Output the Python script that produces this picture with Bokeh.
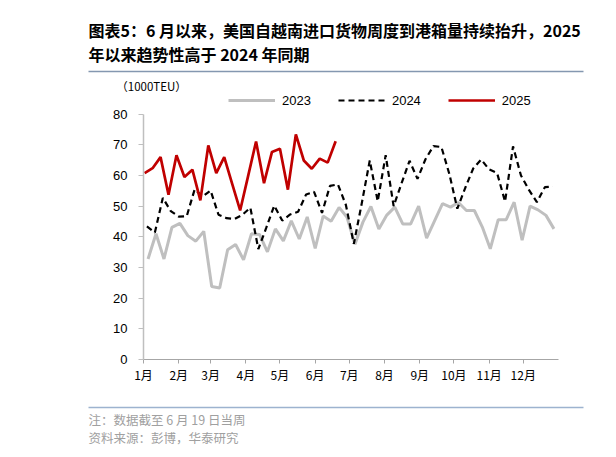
import pandas as pd
from bokeh.plotting import figure
from bokeh.layouts import column
from bokeh.models import Range1d, FixedTicker, Label, Legend, LegendItem, BoxAnnotation
from bokeh.embed import file_html
from bokeh.resources import INLINE

# ---- data (1000 TEU, weekly arrivals of US imports from Vietnam) ----
series_2023 = [32.8, 41.0, 32.8, 43.1, 44.4, 40.4, 38.6, 41.8, 23.8, 23.3,
               35.8, 37.5, 32.5, 41.0, 40.8, 35.1, 42.6, 38.7, 45.2, 39.3,
               46.5, 36.2, 46.8, 45.1, 49.6, 46.4, 37.6, 44.8, 49.9, 42.6,
               47.1, 49.7, 44.2, 44.2, 50.0, 39.6, 45.2, 50.8, 49.7, 51.2,
               48.6, 48.6, 43.2, 36.1, 45.6, 45.6, 51.3, 38.9, 50.0, 48.8,
               47.0, 42.6]
series_2024 = [43.4, 41.4, 52.7, 48.4, 46.6, 46.7, 55.5, 53.2, 55.1, 47.2,
               46.1, 45.8, 47.2, 49.5, 36.0, 43.0, 50.2, 45.3, 47.3, 48.2,
               53.8, 54.7, 47.8, 56.6, 57.1, 50.4, 37.7, 51.0, 64.9, 51.6,
               66.6, 50.0, 57.5, 64.8, 58.9, 65.3, 69.6, 69.3, 60.5, 49.2,
               56.0, 62.3, 65.2, 62.0, 60.8, 51.5, 69.5, 60.0, 55.3, 51.3,
               56.2, 56.4]
series_2025 = [60.8, 62.4, 66.0, 53.7, 66.6, 59.5, 61.9, 51.9, 69.8, 60.8,
               66.0, 57.3, 48.6, 59.8, 71.1, 57.5, 67.7, 68.7, 55.4, 73.4,
               64.9, 62.2, 65.5, 64.2, 71.2]
first_week = {"2023": "2023-01-05", "2024": "2024-01-04", "2025": "2025-01-02"}
series_names = ["2023", "2024", "2025"]
month_ticks = [1, 32, 60, 91, 121, 152, 182, 213, 244, 274, 305, 335]
month_labels = ["1月", "2月", "3月", "4月", "5月", "6月", "7月", "8月", "9月", "10月", "11月", "12月"]
y_ticks = [0, 10, 20, 30, 40, 50, 60, 70, 80]

title_1 = "图表5：6 月以来，美国自越南进口货物周度到港箱量持续抬升，2025"
title_2 = "年以来趋势性高于 2024 年同期"
unit_text = "（1000TEU）"
note_text = "注：数据截至 6 月 19 日当周"
source_text = "资料来源：彭博，华泰研究"


def day_of_year(start, n):
    return list(pd.date_range(start, periods=n, freq="7D").dayofyear)


W = 600
HEAD_H, MAIN_H, FOOT_H = 92, 298, 59
CJK = "Noto Sans CJK SC"


def blank_fig(h):
    f = figure(width=W, height=h, output_backend="svg", toolbar_location=None,
               x_range=Range1d(0, W), y_range=Range1d(h, 0),
               x_axis_location=None, y_axis_location=None, min_border=0,
               frame_align=False)
    f.outline_line_color = None
    f.xgrid.visible = False
    f.ygrid.visible = False
    return f


def add_label(f, text, x, y, size, bold=False, color="#000000", font=CJK, align="left"):
    f.add_layout(Label(x=x, y=y, text=text, text_font=font, text_font_size=size,
                       text_font_style="bold" if bold else "normal", text_color=color,
                       text_align=align, text_baseline="middle"))


def add_rule(f, y, x0, x1, color, thick=1.5):
    f.add_layout(BoxAnnotation(left=x0, right=x1, top=y - thick / 2, bottom=y + thick / 2,
                               fill_color=color, fill_alpha=1, line_color=None))


# ---- header ----
head = blank_fig(HEAD_H)
add_label(head, title_1, 88, 29, "16px", bold=True)
add_label(head, title_2, 88, 53, "16px", bold=True)
add_rule(head, 71, 88, 583, "#8497B0")
add_label(head, unit_text, 151, 85, "11.5px", align="center")

# ---- main chart ----
FL, FR = 143, 558          # frame left/right (px)
FRAME_BOTTOM = 267         # frame bottom inside main figure (px from its top)
Y80_PX = 21.7              # where 80 sits inside main figure (px from its top)
y_top = 80 * FRAME_BOTTOM / (FRAME_BOTTOM - Y80_PX)

p = figure(width=W, height=MAIN_H, output_backend="svg", toolbar_location=None,
           x_range=Range1d(1, 366), y_range=Range1d(0, y_top),
           min_border_left=FL, min_border_right=W - FR,
           min_border_top=0, min_border_bottom=MAIN_H - FRAME_BOTTOM,
           frame_align=False)
p.outline_line_color = None
p.xgrid.grid_line_color = None
p.ygrid.grid_line_color = None

r23 = p.line(day_of_year(first_week["2023"], len(series_2023)), series_2023,
             line_color="#BFBFBF", line_width=3)
r24 = p.line(day_of_year(first_week["2024"], len(series_2024)), series_2024,
             line_color="#000000", line_width=2.2, line_dash="6 4")
r25 = p.line(day_of_year(first_week["2025"], len(series_2025)), series_2025,
             line_color="#C00000", line_width=2.7)

xa = p.xaxis[0]
xa.ticker = FixedTicker(ticks=month_ticks)
xa.major_label_overrides = dict(zip(month_ticks, month_labels))
xa.minor_tick_line_color = None
xa.major_tick_in = 0
xa.major_tick_out = 4
xa.axis_line_color = "#A6A6A6"
xa.major_tick_line_color = "#A6A6A6"
xa.major_label_standoff = 2
xa.major_label_text_font = CJK
xa.major_label_text_font_size = "12px"
xa.major_label_text_color = "#000000"

ya = p.yaxis[0]
ya.ticker = FixedTicker(ticks=y_ticks)
ya.bounds = (0, 80)
ya.minor_tick_line_color = None
ya.major_tick_in = 0
ya.major_tick_out = 5
ya.axis_line_color = "#BFBFBF"
ya.axis_line_width = 1.5
ya.major_tick_line_color = "#BFBFBF"
ya.major_label_standoff = 11
ya.major_label_text_font = "Liberation Sans"
ya.major_label_text_font_size = "13px"
ya.major_label_text_color = "#000000"

legend = Legend(items=[LegendItem(label=n, renderers=[r]) for n, r in zip(series_names, [r23, r24, r25])],
                orientation="horizontal", location=(85, FRAME_BOTTOM - 16), padding=0, margin=0,
                spacing=27, glyph_width=47, glyph_height=16, label_height=16, label_standoff=7,
                label_text_font="Liberation Sans", label_text_font_size="13px",
                label_text_color="#000000",
                border_line_color=None, background_fill_alpha=0)
p.add_layout(legend, "center")

# ---- footer ----
foot = blank_fig(FOOT_H)
add_rule(foot, 17, 88, 583, "#9DB3CF")
add_label(foot, note_text, 88, 29, "12.5px", color="#A0A0A0")
add_label(foot, source_text, 88, 47, "12.5px", color="#A0A0A0")

layout = column(head, p, foot, spacing=0)
open("out.html", "w").write(file_html(layout, INLINE))
